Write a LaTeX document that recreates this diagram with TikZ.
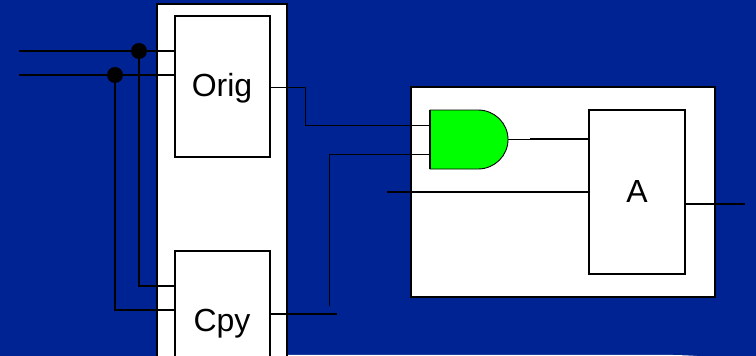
\documentclass[tikz,border=0pt]{standalone}
\usepackage{fontspec}
\setmainfont{Liberation Sans}
\usepackage{xcolor}
\definecolor{slideblue}{RGB}{0,35,148}
\definecolor{gategreen}{RGB}{0,255,0}
\tikzset{
	block/.style = {draw, fill=white, line width=1.4pt, anchor=north west, inner sep=0pt, outer sep=0pt},
	blocklabel/.style = {anchor=base, inner sep=0pt, font=\fontsize{32}{32}\selectfont},
	wire/.style = {line width=1.7pt},
	thinwire/.style = {line width=1pt},
	joint/.style = {circle, fill=black, minimum size=16pt, inner sep=0pt}
}

\begin{document}
\begin{tikzpicture}[x=1pt, y=-1pt]
	\useasboundingbox (0,0) rectangle (756,356);
	\clip (0,0) rectangle (756,356);
	\fill [slideblue] (0,0) rectangle (756,356);
	\fill [white] (287,354.8) -- (660,354.8) .. controls (680,355) and (690,355.5) .. (697,356) -- (287,356) -- cycle;

	% boxes
	\node [block, line width=1.8pt, minimum width=130pt, minimum height=370pt] (left) at (157,4) {};
	\node [block, minimum width=95pt, minimum height=141pt] (orig) at (175,16) {};
	\node [block, minimum width=95pt, minimum height=140pt] (cpy) at (175,251) {};
	\node [block, line width=1.8pt, minimum width=304pt, minimum height=210pt] (right) at (411,87) {};
	\node [block, minimum width=96pt, minimum height=164pt] (a) at (589,110) {};

	\node [blocklabel] (origlabel) at (222,96) {Orig};
	\node [blocklabel] (cpylabel) at (222,331) {Cpy};
	\node [blocklabel] (alabel) at (637,202) {A};

	% gate
	\draw [fill=gategreen, line width=0.9pt] (430,110) -- (478,110) arc [x radius=30, y radius=29.5, start angle=-90, end angle=90] -- (430,169) -- cycle;
	\draw [line width=1.3pt] (430,110) -- (430,169);
	\coordinate (gatein1) at (430,125);
	\coordinate (gatein2) at (430,154);
	\coordinate (gateout) at (508,139);

	% free wire ends
	\coordinate (in1) at (19,51);
	\coordinate (in2) at (19,75);
	\coordinate (stub) at (530,139);
	\coordinate (bend1) at (305.5,87);
	\coordinate (bend2) at (329.5,306);
	\coordinate (cpyend) at (337,314);
	\coordinate (ain) at (387,192);
	\coordinate (aend) at (745,204);

	\draw [wire] (in1) -- (orig.west |- in1);
	\draw [wire] (in2) -- (orig.west |- in2);
	\node [joint] (j1) at (139,51) {};
	\node [joint] (j2) at (115,75) {};
	\draw [wire] (j1) |- (175,286);
	\draw [wire] (j2) |- (175,310);

	\draw [thinwire] (orig.east |- bend1) -- (bend1) |- (gatein1);
	\draw [thinwire] (bend2) |- (gatein2);
	\draw [wire] (cpy.east |- cpyend) -- (cpyend);

	\draw [thinwire] (gateout) -- (stub);
	\draw [wire] (stub) -- (a.west |- stub);
	\draw [wire] (ain) -- (a.west |- ain);
	\draw [wire] (a.east |- aend) -- (aend);
\end{tikzpicture}
\end{document}
